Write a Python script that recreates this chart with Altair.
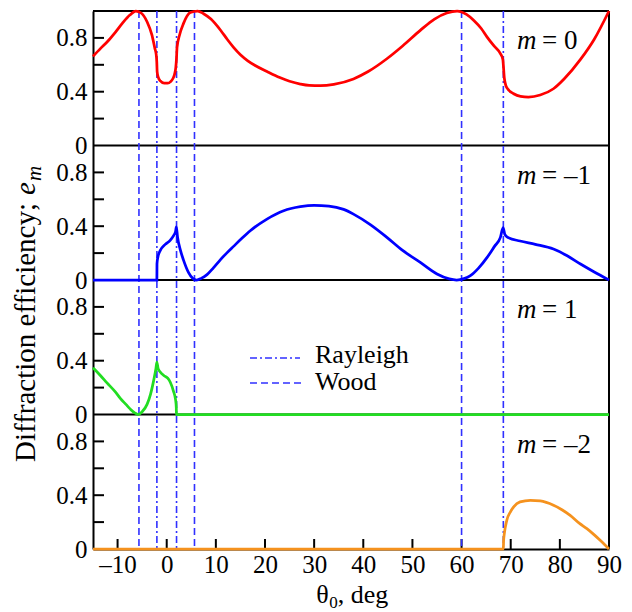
import altair as alt
import pandas as pd

# ---------------- data ----------------
# order m = 0
theta_m0 = [-15, -13.5, -12, -10.5, -9, -7.5, -6.3, -5.2, -4.0, -3.0, -2.4, -2.15, -2.02,
            -1.95, -1.75, -1.3, -0.5, 0.2, 0.8, 1.3, 1.6, 1.85, 1.98, 2.1, 2.6, 3.4, 4.8,
            6.3, 7.5, 9.0, 11, 12.3, 13.6, 15, 16.5, 18, 20.4, 23, 25, 27.2, 29, 31.3, 34, 38, 41,
            44.8, 48, 51.6, 54.5, 57, 59.1, 61, 62.5, 64, 65.2, 66.6, 67.9, 68.4, 68.5,
            68.7, 69.2, 70.6, 72, 73.6, 76, 78.7, 81, 84.2, 87, 90]
e_m0 = [0.663, 0.72, 0.775, 0.84, 0.91, 0.97, 1.0, 0.985, 0.92, 0.82, 0.72, 0.68, 0.62,
        0.55, 0.51, 0.48, 0.463, 0.463, 0.475, 0.5, 0.53, 0.58, 0.64, 0.73, 0.82, 0.906, 0.988,
        1.0, 0.98, 0.94, 0.855, 0.79, 0.73, 0.675, 0.63, 0.595, 0.55, 0.505, 0.478, 0.457, 0.447, 0.445, 0.455, 0.495, 0.55,
        0.645, 0.74, 0.856, 0.94, 0.985, 1.0, 0.975, 0.93, 0.87, 0.806, 0.74, 0.683, 0.64, 0.6,
        0.5, 0.43, 0.385, 0.365, 0.36, 0.375, 0.422, 0.5, 0.64, 0.79, 1.0]

# order m = -1
theta_m_1 = [-15, -2.0, -1.98, -1.8, -1.3, -0.3, 0.7, 1.4, 1.8, 1.96, 2.2, 2.8, 3.4, 4.45,
             5.3, 6.1, 7.0, 8.2, 9.5, 10.9, 12.2, 13.6, 15.3, 17, 20.4, 23.8, 27.2, 30, 33, 36, 38,
             41.5, 44.8, 48, 51.6, 55, 57.5, 59, 60.5, 61.8, 63.5, 65.2, 66.7, 67.9, 68.45,
             68.8, 69.5, 71.9, 75, 78.7, 81.5, 84.2, 87, 90]
e_m_1 = [0.0, 0.0, 0.12, 0.17, 0.22, 0.265, 0.295, 0.33, 0.36, 0.395, 0.32, 0.22, 0.15, 0.055,
         0.012, 0.0, 0.012, 0.04, 0.09, 0.15, 0.2, 0.25, 0.31, 0.366, 0.453, 0.515, 0.545, 0.555, 0.55, 0.525, 0.49,
         0.41, 0.317, 0.22, 0.131, 0.045, 0.008, 0.0, 0.01, 0.032, 0.09, 0.168, 0.25, 0.317, 0.39,
         0.34, 0.315, 0.29, 0.265, 0.23, 0.18, 0.119, 0.06, 0.0]

# order m = 1
theta_m1 = [-15, -13.5, -12.15, -10.5, -9.44, -8.3, -7.4, -6.5, -5.8, -5.0, -4.0, -3.3, -2.67,
            -2.2, -2.0, -1.75, -1.4, -0.6, 0.2, 0.73, 1.4, 1.8, 1.95, 1.97, 90]
e_m1 = [0.347, 0.29, 0.235, 0.17, 0.12, 0.075, 0.04, 0.012, 0.0, 0.02, 0.075, 0.15, 0.25,
        0.34, 0.39, 0.34, 0.32, 0.29, 0.27, 0.24, 0.17, 0.11, 0.05, 0.0, 0.0]

# order m = -2
theta_m_2 = [-15, 68.5, 68.55, 68.7, 69.2, 70.0, 70.6, 71.9, 74, 76, 78.7, 80.5, 82.1, 84,
             85.5, 87, 88.2, 90]
e_m_2 = [0.0, 0.0, 0.06, 0.114, 0.213, 0.28, 0.313, 0.35, 0.362, 0.357, 0.325, 0.29, 0.25, 0.19,
         0.151, 0.105, 0.065, 0.0]

orders = ["m=0", "m=-1", "m=1", "m=-2"]
order_labels = ["0", "\u20131", "1", "\u20132"]
panel_offsets = [3, 2, 1, 0]
order_colors = ["#ff0000", "#0000ff", "#22dd22", "#f5921e"]

rayleigh_theta = [-2.0, 2.0, 68.5]
wood_theta = [-5.65, 5.65, 60.0]

x_ticks = [-10, 0, 10, 20, 30, 40, 50, 60, 70, 80, 90]
y_label_steps = [0.0, 0.4, 0.8]
y_minor_steps = [0.2, 0.4, 0.6, 0.8]
legend_names = ["Rayleigh", "Wood"]

# ---------------- layout constants ----------------
W, H = 516, 538
FONT = "Liberation Serif, DejaVu Serif, serif"
BLUE_RULE = "#3030ff"
DASH_RAYLEIGH = [7, 3, 2, 3]
DASH_WOOD = [7, 4]

series = [(theta_m0, e_m0), (theta_m_1, e_m_1), (theta_m1, e_m1), (theta_m_2, e_m_2)]
rows = []
for name, off, (th, ev) in zip(orders, panel_offsets, series):
    assert len(th) == len(ev), name
    for t, v in zip(th, ev):
        rows.append({"order": name, "offset": off, "theta": t, "e": v})
curves = pd.DataFrame(rows)

xs = alt.Scale(domain=[-15, 90], nice=False, zero=False)
ys = alt.Scale(domain=[0, 4], nice=False, zero=False)

y_label_vals = sorted(round(o + s, 2) for o in panel_offsets for s in y_label_steps)

x_axis = alt.Axis(values=x_ticks, ticks=False, tickSize=0, grid=False, domain=True,
                  domainColor="black", domainWidth=2, labelFont=FONT, labelFontSize=25,
                  labelColor="black", labelPadding=3, labelFlush=False, labelOverlap=False,
                  labelExpr="replace(datum.label, '\u2212', '\u2013')", title=None, zindex=0)
y_axis = alt.Axis(values=y_label_vals, ticks=False, tickSize=0, grid=False, domain=True,
                  domainColor="black", domainWidth=2, labelFont=FONT, labelFontSize=25,
                  labelColor="black", labelPadding=6, labelOverlap=False, labelFlush=False,
                  labelBaseline="middle",
                  labelExpr="format(datum.value - floor(datum.value + 0.001), '.1~f')",
                  title=None, zindex=0)

def X(field):
    return alt.X(field, scale=xs, axis=x_axis, title=None)

def Y(field):
    return alt.Y(field, scale=ys, axis=y_axis, title=None)

one = pd.DataFrame({"k": [0]})

# panel separators and top border
sep_df = pd.DataFrame({"s": [1, 2, 3, 4]})
separators = alt.Chart(sep_df).mark_rule(color="black", strokeWidth=2).encode(
    y=Y("s:Q"), x=alt.value(0), x2=alt.value(W))
right_border = alt.Chart(one).mark_rule(color="black", strokeWidth=2).encode(
    x=alt.value(W), y=alt.value(0), y2=alt.value(H))

# inward ticks
ytick_df = pd.DataFrame({"v": [o + s for o in panel_offsets for s in y_minor_steps]})
yticks = alt.Chart(ytick_df).mark_rule(color="black", strokeWidth=2).encode(
    y=Y("v:Q"), x=alt.value(0), x2=alt.value(11))
xtick_df = pd.DataFrame({"t": x_ticks})
xticks = alt.Chart(xtick_df).mark_rule(color="black", strokeWidth=2).encode(
    x=X("t:Q"), y=alt.value(H), y2=alt.value(H - 10))

# anomaly lines
ray_rules = alt.Chart(pd.DataFrame({"theta": rayleigh_theta})).mark_rule(
    color=BLUE_RULE, strokeWidth=1.6, strokeDash=DASH_RAYLEIGH).encode(
    x=X("theta:Q"), y=alt.value(0), y2=alt.value(H))
wood_rules = alt.Chart(pd.DataFrame({"theta": wood_theta})).mark_rule(
    color=BLUE_RULE, strokeWidth=1.6, strokeDash=DASH_WOOD).encode(
    x=X("theta:Q"), y=alt.value(0), y2=alt.value(H))

# efficiency curves
lines = alt.Chart(curves).transform_calculate(
    yy="datum.e + datum.offset").mark_line(strokeWidth=2.75, interpolate="monotone").encode(
    x=X("theta:Q"), y=Y("yy:Q"),
    color=alt.Color("order:N", scale=alt.Scale(domain=orders, range=order_colors), legend=None))

# panel labels  "m = ..."
lab_df = pd.DataFrame({"lab": order_labels, "offset": panel_offsets})
lab_m = alt.Chart(lab_df).transform_calculate(yy="datum.offset + 0.715").mark_text(
    font=FONT, fontSize=27, fontStyle="italic", align="left", baseline="alphabetic",
    color="black").encode(x=alt.value(424), y=Y("yy:Q"), text=alt.value("m"))
lab_rest = alt.Chart(lab_df).transform_calculate(
    yy="datum.offset + 0.715", txt="'= ' + datum.lab").mark_text(
    font=FONT, fontSize=27, align="left", baseline="alphabetic", dx=25,
    color="black").encode(x=alt.value(424), y=Y("yy:Q"), text="txt:N")

# legend (drawn by hand, Rayleigh / Wood)
leg_ray = alt.Chart(one).mark_rule(color=BLUE_RULE, strokeWidth=1.6, strokeDash=DASH_RAYLEIGH).encode(
    x=alt.value(157), x2=alt.value(207), y=alt.value(347))
leg_wood = alt.Chart(one).mark_rule(color=BLUE_RULE, strokeWidth=1.6, strokeDash=DASH_WOOD).encode(
    x=alt.value(157), x2=alt.value(209), y=alt.value(372))
leg_ray_t = alt.Chart(one).mark_text(font=FONT, fontSize=26, align="left", baseline="alphabetic",
                                     color="black").encode(
    x=alt.value(222), y=alt.value(352), text=alt.value(legend_names[0]))
leg_wood_t = alt.Chart(one).mark_text(font=FONT, fontSize=26, align="left", baseline="alphabetic",
                                      color="black").encode(
    x=alt.value(222), y=alt.value(379), text=alt.value(legend_names[1]))

# y title: "Diffraction efficiency;  e_m"
FS_T = 29
main_len = 8.97 * FS_T
total = main_len + 8 + 0.444 * FS_T + 0.722 * 21
center = 304
y_start = center + total / 2
y_end = y_start - main_len
ytitle_main = alt.Chart(one).mark_text(font=FONT, fontSize=FS_T, angle=270, align="right",
                                       baseline="alphabetic", color="black").encode(
    x=alt.value(-58), y=alt.value(y_end), text=alt.value("Diffraction efficiency;"))
ytitle_e = alt.Chart(one).mark_text(font=FONT, fontSize=FS_T, fontStyle="italic", angle=270,
                                    align="left", baseline="alphabetic", color="black").encode(
    x=alt.value(-58), y=alt.value(y_end - 8), text=alt.value("e"))
ytitle_m = alt.Chart(one).mark_text(font=FONT, fontSize=21, fontStyle="italic", angle=270,
                                    align="left", baseline="alphabetic", color="black").encode(
    x=alt.value(-52), y=alt.value(y_end - 8 - 0.444 * FS_T - 1), text=alt.value("m"))

# x title: "θ0, deg" with subscript 0
piv = 235.7
xt_theta = alt.Chart(one).mark_text(font=FONT, fontSize=26, align="right", baseline="alphabetic",
                                    color="black").encode(
    x=alt.value(piv), y=alt.value(592), text=alt.value("\u03b8"))
xt_sub = alt.Chart(one).mark_text(font=FONT, fontSize=17, align="left", baseline="alphabetic",
                                  color="black").encode(
    x=alt.value(piv + 0.5), y=alt.value(597), text=alt.value("0"))
xt_rest = alt.Chart(one).mark_text(font=FONT, fontSize=26, align="left", baseline="alphabetic",
                                   color="black").encode(
    x=alt.value(piv + 9), y=alt.value(592), text=alt.value(", deg"))

chart = alt.layer(
    separators, right_border, yticks, xticks, ray_rules, wood_rules, lines,
    lab_m, lab_rest, leg_ray, leg_wood, leg_ray_t, leg_wood_t,
    ytitle_main, ytitle_e, ytitle_m, xt_theta, xt_sub, xt_rest,
).properties(
    width=W, height=H,
    padding={"left": 85, "top": 3, "right": 14, "bottom": 62},
    autosize=alt.AutoSizeParams(type="none"),
).configure_view(stroke="transparent")

chart.save("out.html", embed_options={"renderer": "svg", "actions": False})
